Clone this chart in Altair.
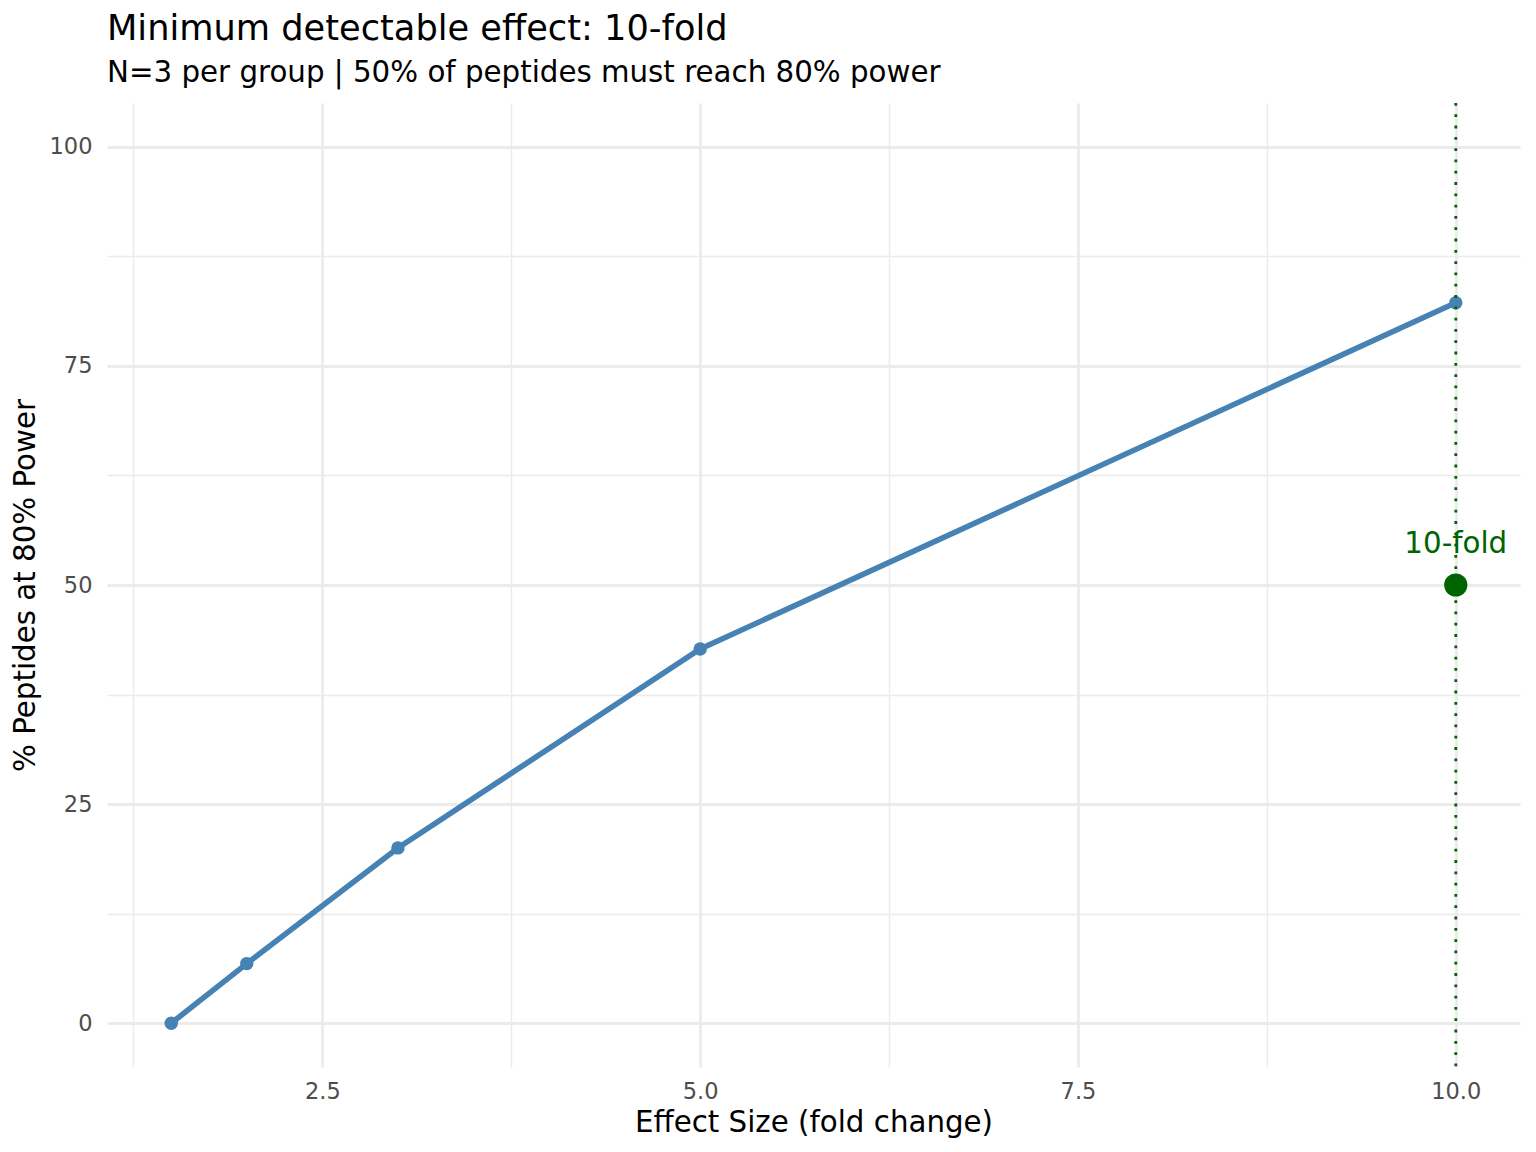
import altair as alt
import pandas as pd

# ---- data ----
fold_change = [1.5, 2.0, 3.0, 5.0, 10.0]
pct_powered = [0.0, 6.8, 20.0, 42.7, 82.2]

min_effect = [10.0]
target_pct = [50.0]
min_label = ["10-fold"]

x_major = [2.5, 5.0, 7.5, 10.0]
x_minor = [1.25, 3.75, 6.25, 8.75]
y_major = [0, 25, 50, 75, 100]
y_minor = [12.5, 37.5, 62.5, 87.5]
x_domain = [1.075, 10.425]
y_domain = [-5, 105]

title_text = "Minimum detectable effect: 10-fold"
subtitle_text = "N=3 per group | 50% of peptides must reach 80% power"
x_title = "Effect Size (fold change)"
y_title = "% Peptides at 80% Power"

curve = pd.DataFrame({"fc": fold_change, "pct": pct_powered})
mark_df = pd.DataFrame({"fc": min_effect, "pct": target_pct, "label": min_label})

FONT = "DejaVu Sans"
W, H = 1413, 964
GRID = "#EBEBEB"

xs = alt.Scale(domain=x_domain, nice=False, zero=False)
ys = alt.Scale(domain=y_domain, nice=False, zero=False)

x_axis = alt.Axis(
    values=sorted(x_major + x_minor),
    format=".1f",
    labelExpr="datum.value % 2.5 === 0 ? datum.label : ''",
    labelOverlap=False,
    labelFlush=False,
    ticks=False,
    tickSize=0,
    domain=False,
    grid=True,
    gridColor=GRID,
    gridWidth=alt.condition("datum.value % 2.5 === 0", alt.value(2.8), alt.value(1.4)),
    labelFont=FONT,
    labelFontSize=22.5,
    labelColor="#4D4D4D",
    labelPadding=13,
    title=x_title,
    titleFont=FONT,
    titleFontSize=29.3,
    titleFontWeight="normal",
    titleColor="black",
    titleBaseline="alphabetic",
    titleY=64,
)

y_axis = alt.Axis(
    values=sorted(y_major + y_minor),
    format="d",
    labelExpr="datum.value % 25 === 0 ? datum.label : ''",
    labelOverlap=False,
    labelFlush=False,
    ticks=False,
    tickSize=0,
    domain=False,
    grid=True,
    gridColor=GRID,
    gridWidth=alt.condition("datum.value % 25 === 0", alt.value(2.8), alt.value(1.4)),
    labelFont=FONT,
    labelFontSize=22.5,
    labelColor="#4D4D4D",
    labelPadding=15,
    title=y_title,
    titleFont=FONT,
    titleFontSize=29.3,
    titleFontWeight="normal",
    titleColor="black",
    titleBaseline="alphabetic",
    titleX=-73,
    titleY=H / 2,
)

base = alt.Chart(curve)

line = base.mark_line(color="#4682B4", strokeWidth=5.6).encode(
    x=alt.X("fc:Q", scale=xs, axis=x_axis),
    y=alt.Y("pct:Q", scale=ys, axis=y_axis),
)

points = base.mark_circle(color="#4682B4", size=180, opacity=1).encode(
    x=alt.X("fc:Q", scale=xs),
    y=alt.Y("pct:Q", scale=ys),
)

vline = alt.Chart(mark_df).mark_rule(
    color="#006400", strokeWidth=2.8, strokeDash=[2.8, 8.5]
).encode(x=alt.X("fc:Q", scale=xs))

target_pt = alt.Chart(mark_df).mark_circle(color="#006400", size=540, opacity=1).encode(
    x=alt.X("fc:Q", scale=xs),
    y=alt.Y("pct:Q", scale=ys),
)

label = alt.Chart(mark_df).mark_text(
    color="#006400", font=FONT, fontSize=29.3, baseline="alphabetic", align="center", dy=-32
).encode(
    x=alt.X("fc:Q", scale=xs),
    y=alt.Y("pct:Q", scale=ys),
    text="label:N",
)

chart = (
    alt.layer(line, points, vline, target_pt, label)
    .properties(
        width=W,
        height=H,
        view=alt.ViewBackground(stroke="transparent", strokeWidth=0),
        padding={"left": 99, "top": 95, "right": 8, "bottom": 77},
        autosize=alt.AutoSizeParams(type="none"),
        title=alt.TitleParams(
            text=title_text,
            subtitle=subtitle_text,
            anchor="start",
            frame="group",
            font=FONT,
            fontSize=35.2,
            fontWeight="normal",
            color="black",
            subtitleFont=FONT,
            subtitleFontSize=29.3,
            subtitleColor="black",
            offset=13,
            subtitlePadding=12,
        ),
    )
    .configure_view(strokeWidth=0, stroke="transparent")
    .configure(background="white")
)

chart.save("out.html", embed_options={"renderer": "svg", "actions": False})
